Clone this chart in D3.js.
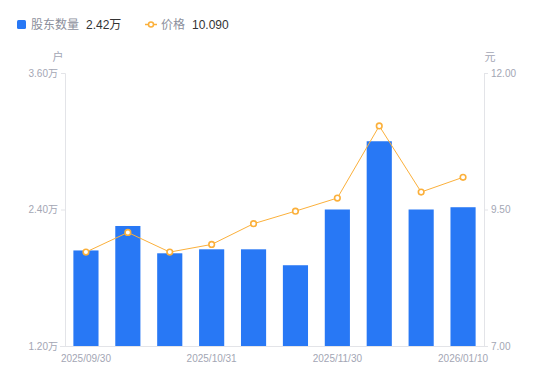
<!DOCTYPE html>
<html>
<head>
<meta charset="utf-8">
<script src="https://cdn.jsdelivr.net/npm/d3@7"></script>
<style>
html,body{margin:0;padding:0;background:#fff;}
svg{display:block;font-family:"Liberation Sans","Noto Sans CJK SC",Arial,sans-serif;}
</style>
</head>
<body>
<svg id="chart" width="550" height="381"></svg>
<script>
const dates = ["2025/09/30","2025/10/10","2025/10/20","2025/10/31","2025/11/10","2025/11/20","2025/11/30","2025/12/10","2025/12/31","2026/01/10"];
const holders = [2.04, 2.255, 2.015, 2.05, 2.05, 1.91, 2.40, 3.00, 2.40, 2.42];
const prices = [8.72, 9.08, 8.72, 8.86, 9.24, 9.47, 9.71, 11.03, 9.82, 10.09];
const leftTicks = [1.2, 2.4, 3.6];
const rightTicks = [7.0, 9.5, 12.0];
const xTickDates = ["2025/09/30","2025/10/31","2025/11/30","2026/01/10"];

const svg = d3.select("#chart");
const L = 65, R = 484, T = 73, B = 346;
const axisColor = "#e3e4e8", labelColor = "#a3a6b4";
const barColor = "#2878f5", lineColor = "#fbb03b";

const x = d3.scaleBand().domain(dates).range([L, R]).paddingInner(0.4).paddingOuter(0.2);
const yL = d3.scaleLinear().domain([1.2, 3.6]).range([B, T]);
const yR = d3.scaleLinear().domain([7, 12]).range([B, T]);

// axes
const gl = svg.append("g").attr("transform", `translate(${L},0)`)
  .call(d3.axisLeft(yL).tickValues(leftTicks).tickSize(4).tickPadding(3).tickFormat(d => d3.format(".2f")(d) + "万"));
const gr = svg.append("g").attr("transform", `translate(${R},0)`)
  .call(d3.axisRight(yR).tickValues(rightTicks).tickSize(4).tickPadding(3).tickFormat(d3.format(".2f")));
const gb = svg.append("g").attr("transform", `translate(0,${B})`)
  .call(d3.axisBottom(x).tickValues(xTickDates).tickSize(0).tickPadding(7));
[gl, gr, gb].forEach(g => {
  g.selectAll("path.domain").attr("stroke", axisColor);
  g.selectAll(".tick line").attr("stroke", axisColor);
  g.selectAll(".tick text").attr("fill", labelColor).attr("font-size", 10)
    .attr("font-family", '"Liberation Sans","Noto Sans CJK SC",Arial,sans-serif');
});
gb.select("path.domain").attr("d", `M${L-5},0.5H${R+4}`);
gb.selectAll(".tick text").attr("dy", "0.9em");

// unit labels
svg.append("text").attr("x", 58).attr("y", 61).attr("text-anchor", "middle")
  .attr("font-size", 11).attr("fill", labelColor).text("户");
svg.append("text").attr("x", 490).attr("y", 61).attr("text-anchor", "middle")
  .attr("font-size", 11).attr("fill", labelColor).text("元");

// bars
svg.append("g").selectAll("rect").data(dates).join("rect")
  .attr("x", d => x(d)).attr("width", x.bandwidth())
  .attr("y", (d, i) => yL(holders[i])).attr("height", (d, i) => B - yL(holders[i]))
  .attr("fill", barColor);

// line
const line = d3.line().x((d, i) => x(dates[i]) + x.bandwidth() / 2).y(d => yR(d));
svg.append("path").datum(prices).attr("d", line).attr("fill", "none")
  .attr("stroke", lineColor).attr("stroke-width", 1);
svg.append("g").selectAll("circle").data(prices).join("circle")
  .attr("cx", (d, i) => x(dates[i]) + x.bandwidth() / 2).attr("cy", d => yR(d))
  .attr("r", 2.8).attr("fill", "#fff").attr("stroke", lineColor).attr("stroke-width", 1.6);

// legend
const lg = svg.append("g");
lg.append("rect").attr("x", 17).attr("y", 20).attr("width", 9).attr("height", 9).attr("rx", 1.5).attr("fill", barColor);
lg.append("text").attr("x", 31).attr("y", 29).attr("font-size", 12).attr("fill", "#8c8f9c").text("股东数量");
lg.append("text").attr("x", 86).attr("y", 29).attr("font-size", 12).attr("fill", "#333").text(d3.format(".2f")(holders[holders.length - 1]) + "万");
lg.append("line").attr("x1", 145).attr("x2", 157).attr("y1", 24.5).attr("y2", 24.5).attr("stroke", lineColor).attr("stroke-width", 1.5);
lg.append("circle").attr("cx", 151).attr("cy", 24.5).attr("r", 2.5).attr("fill", "#fff").attr("stroke", lineColor).attr("stroke-width", 1.5);
lg.append("text").attr("x", 161).attr("y", 29).attr("font-size", 12).attr("fill", "#8c8f9c").text("价格");
lg.append("text").attr("x", 192).attr("y", 29).attr("font-size", 12).attr("fill", "#333").text(d3.format(".3f")(prices[prices.length - 1]));
</script>
</body>
</html>
